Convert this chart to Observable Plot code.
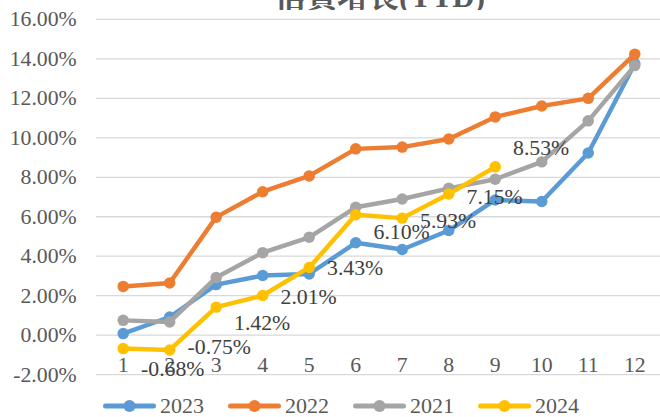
<!DOCTYPE html>
<html><head><meta charset="utf-8">
<script src="https://cdn.jsdelivr.net/npm/d3@7"></script>
<script src="https://cdn.jsdelivr.net/npm/@observablehq/plot@0.6"></script>
<style>
html,body{margin:0;padding:0;overflow:hidden;background:#fff;width:660px;height:417px}
#title{height:10px;overflow:hidden;position:relative}
#title div{position:absolute;left:0;width:760px;text-align:center;top:-19px;font-family:"Liberation Serif","DejaVu Serif","Noto Serif CJK TC","Noto Sans CJK TC",serif;font-weight:bold;font-size:31px;color:#595959;line-height:32px;white-space:nowrap}
#legend{height:22px;display:flex;align-items:center;padding-left:103px;padding-top:4px;gap:24px;font-family:"Liberation Serif","DejaVu Serif",serif;font-size:22px;color:#595959}
#legend .item{display:flex;align-items:center;gap:4px}
#chart svg{display:block}
</style>
</head><body>
<div id="title"><div>信貸增長(YTD)</div></div>
<div id="chart"></div>
<div id="legend"></div>
<script>
const months = [1,2,3,4,5,6,7,8,9,10,11,12];
const years = ["2023","2022","2021","2024"];
const colors = ["#5B9BD5","#ED7D31","#A5A5A5","#FFC000"];
const v2023 = [0.08,0.92,2.56,3.02,3.10,4.68,4.34,5.30,6.85,6.77,9.23,13.75];
const v2022 = [2.47,2.64,5.98,7.27,8.07,9.44,9.53,9.94,11.06,11.61,12.00,14.24];
const v2021 = [0.75,0.67,2.92,4.18,4.96,6.48,6.90,7.44,7.90,8.78,10.86,13.66];
const v2024 = [-0.68,-0.75,1.42,2.01,3.43,6.10,5.93,7.15,8.53];
const yTicks = [-2,0,2,4,6,8,10,12,14,16];
const labelDy = [21,-3,16,2,1,17,3,3,-19];

const series = [v2023, v2022, v2021, v2024];
const rowsOf = i => series[i].map((v,j) => ({year: years[i], month: months[j], value: v}));
const fmt = d => d.toFixed(2) + "%";
const font = "'Liberation Serif', 'DejaVu Serif', serif";

const marks = [
  Plot.gridY({ticks: yTicks, stroke: "#D9D9D9", strokeOpacity: 1, strokeWidth: 1.3}),
  Plot.axisY({ticks: yTicks, tickSize: 0, tickPadding: 20, tickFormat: fmt, fontSize: 22, fontFamily: font, color: "#595959", label: null}),
  Plot.axisX({tickSize: 0, tickPadding: 0, lineAnchor: "middle", dy: -10, fontSize: 22, fontFamily: font, color: "#595959", label: null})
];
years.forEach((y, i) => {
  const rows = rowsOf(i);
  marks.push(Plot.line(rows, {x: "month", y: "value", stroke: colors[i], strokeWidth: 4.5, strokeLinejoin: "round", strokeLinecap: "round"}));
  marks.push(Plot.dot(rows, {x: "month", y: "value", r: 5.8, fill: colors[i], stroke: null}));
});
rowsOf(3).forEach((d, i) => {
  marks.push(Plot.text([d], {x: "month", y: "value", text: e => fmt(e.value), textAnchor: "start", dx: 18, dy: labelDy[i], fontSize: 22, fontFamily: font, fill: "#404040"}));
});

const chart = Plot.plot({
  width: 667, height: 385,
  marginLeft: 97, marginRight: 0, marginTop: 9, marginBottom: 17,
  x: {type: "point", domain: months, padding: 0.5, label: null},
  y: {domain: [-2, 16], label: null},
  style: {fontFamily: font, fontSize: "22px", color: "#595959", background: "white", overflow: "visible"},
  marks
});
document.getElementById("chart").appendChild(chart);

const legend = document.getElementById("legend");
years.forEach((y, i) => {
  const item = document.createElement("div");
  item.className = "item";
  item.innerHTML = `<svg width="53" height="22"><line x1="2.5" x2="50.5" y1="11" y2="11" stroke="${colors[i]}" stroke-width="5" stroke-linecap="round"/><circle cx="26.5" cy="11" r="6" fill="${colors[i]}"/></svg><span>${y}</span>`;
  legend.appendChild(item);
});
</script>
</body></html>
